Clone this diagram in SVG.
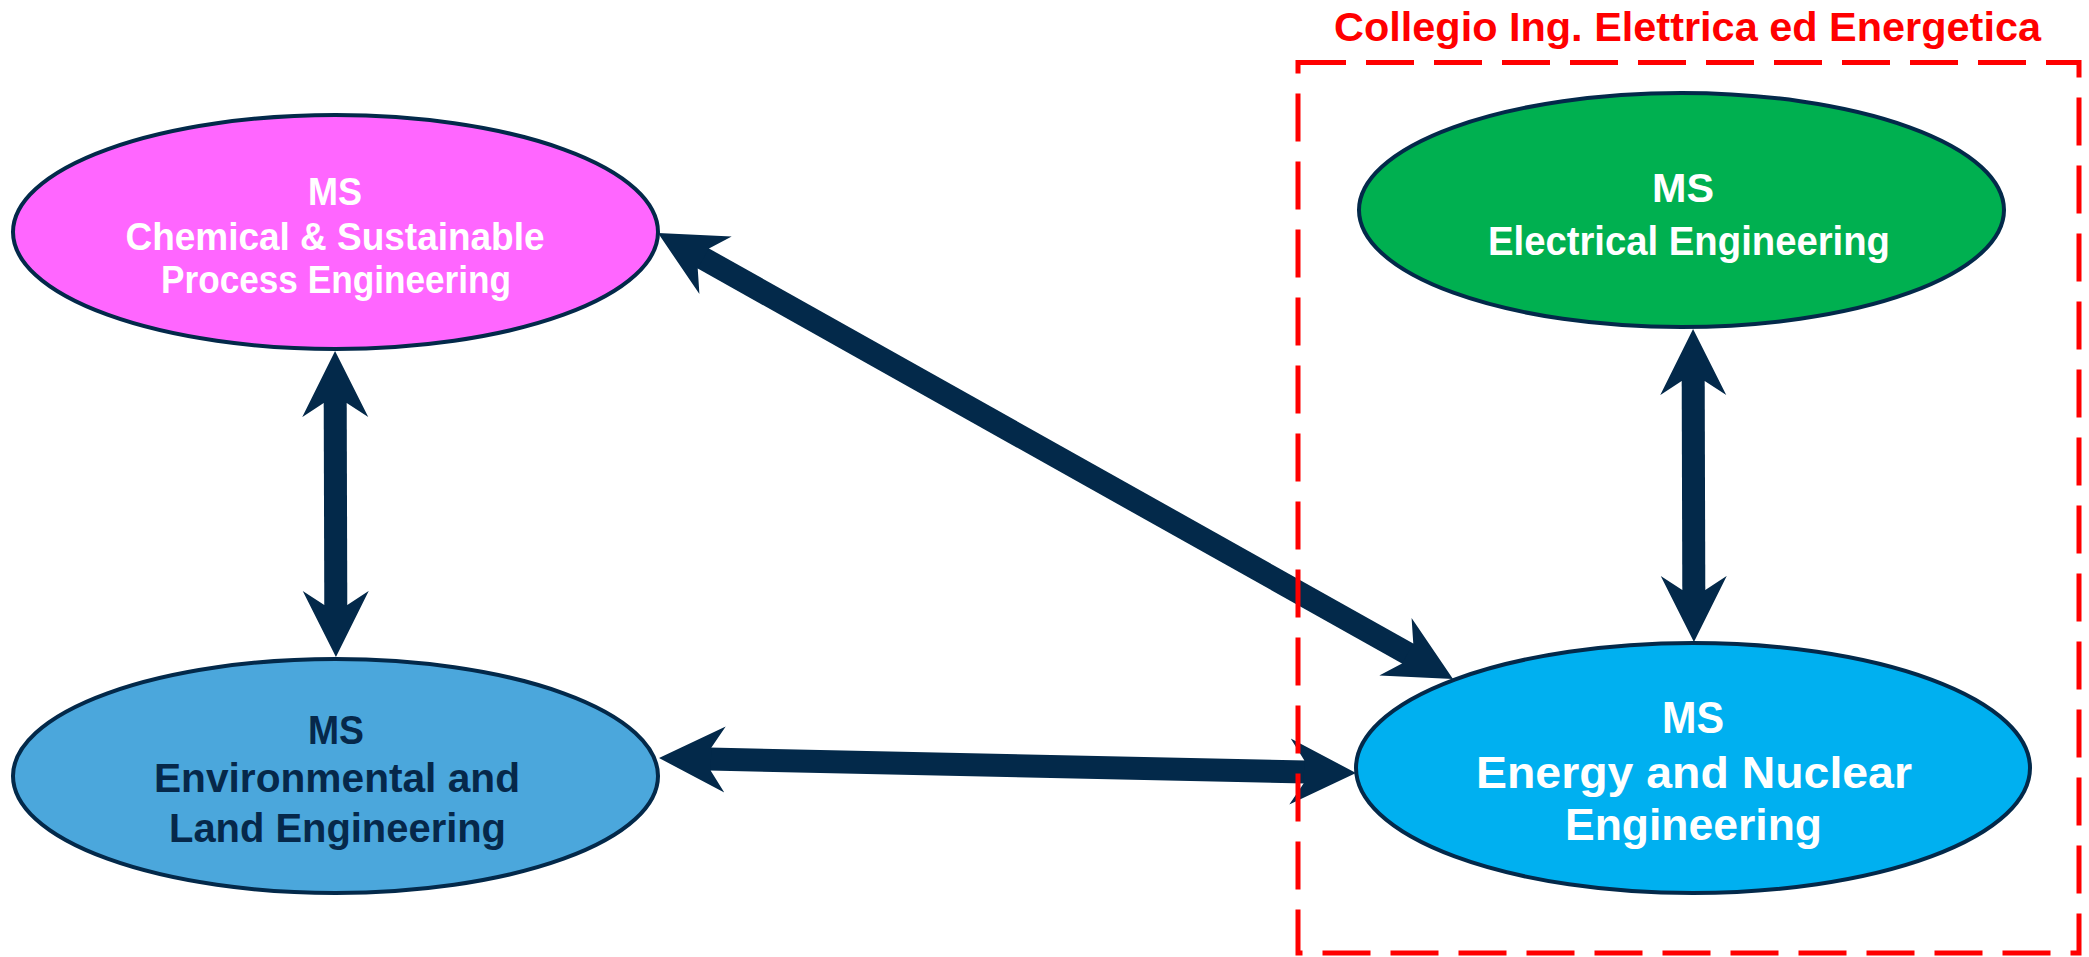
<svg xmlns="http://www.w3.org/2000/svg" width="2089" height="957" viewBox="0 0 2089 957">
<style>
.node { stroke: #03294A; stroke-width: 4; }
.t { font-family: "Liberation Sans", Arial, sans-serif; font-weight: bold; text-anchor: middle; }
.w { fill: #FFFFFF; }
.d { fill: #06284A; }
.conn { stroke: #03294A; stroke-width: 23; fill: none; marker-start: url(#head); marker-end: url(#head); }
.group { fill: none; stroke: #FF0000; stroke-width: 5; stroke-dasharray: 48 20; }
.title { fill: #FF0000; font-size: 40px; }
</style>
<defs>
<marker id="head" markerUnits="userSpaceOnUse" markerWidth="70" markerHeight="70" viewBox="0 -35 70 70" refX="16" refY="0" orient="auto-start-reverse">
<path d="M66,0 L0,-33 L14,-11.5 L14,11.5 L0,33 Z" fill="#03294A"/>
</marker>
</defs>
<rect width="2089" height="957" fill="#FFFFFF"/>

<g id="node-chemical">
<ellipse class="node" cx="335.5" cy="232" rx="322.5" ry="117" fill="#FF66FF"/>
<text class="t w" x="335" y="205" font-size="38" textLength="54" lengthAdjust="spacingAndGlyphs">MS</text>
<text class="t w" x="335" y="250" font-size="38" textLength="419" lengthAdjust="spacingAndGlyphs">Chemical &amp; Sustainable</text>
<text class="t w" x="336" y="293" font-size="38" textLength="350" lengthAdjust="spacingAndGlyphs">Process Engineering</text>
</g>

<g id="node-electrical">
<ellipse class="node" cx="1681.5" cy="210" rx="322.5" ry="117" fill="#00B050"/>
<text class="t w" x="1683" y="202" font-size="40" textLength="62" lengthAdjust="spacingAndGlyphs">MS</text>
<text class="t w" x="1689" y="255" font-size="40" textLength="402" lengthAdjust="spacingAndGlyphs">Electrical Engineering</text>
</g>

<g id="node-environmental">
<ellipse class="node" cx="335.5" cy="776" rx="322.5" ry="117" fill="#4BA7DC"/>
<text class="t d" x="336" y="744" font-size="40" textLength="56" lengthAdjust="spacingAndGlyphs">MS</text>
<text class="t d" x="337" y="792" font-size="40" textLength="366" lengthAdjust="spacingAndGlyphs">Environmental and</text>
<text class="t d" x="337.5" y="842" font-size="40" textLength="337" lengthAdjust="spacingAndGlyphs">Land Engineering</text>
</g>

<g id="node-energy">
<ellipse class="node" cx="1693" cy="768" rx="337" ry="125" fill="#00B0F0"/>
<text class="t w" x="1693" y="733" font-size="44" textLength="62" lengthAdjust="spacingAndGlyphs">MS</text>
<text class="t w" x="1694" y="788" font-size="44" textLength="436" lengthAdjust="spacingAndGlyphs">Energy and Nuclear</text>
<text class="t w" x="1693.5" y="840" font-size="44" textLength="257" lengthAdjust="spacingAndGlyphs">Engineering</text>
</g>

<g id="connectors">
<line class="conn" x1="335.2" y1="401" x2="335.8" y2="607"/>
<line class="conn" x1="1693.2" y1="379" x2="1693.8" y2="592"/>
<line class="conn" x1="701.6" y1="257.5" x2="1409.4" y2="654.5"/>
<line class="conn" x1="709" y1="759.1" x2="1306" y2="771.9"/>
</g>

<g id="group-collegio">
<path class="group" d="M1298,62.5 H2079 V953 H1298 Z"/>
<text class="t title" x="1687.5" y="41" textLength="707" lengthAdjust="spacingAndGlyphs">Collegio Ing. Elettrica ed Energetica</text>
</g>
</svg>
